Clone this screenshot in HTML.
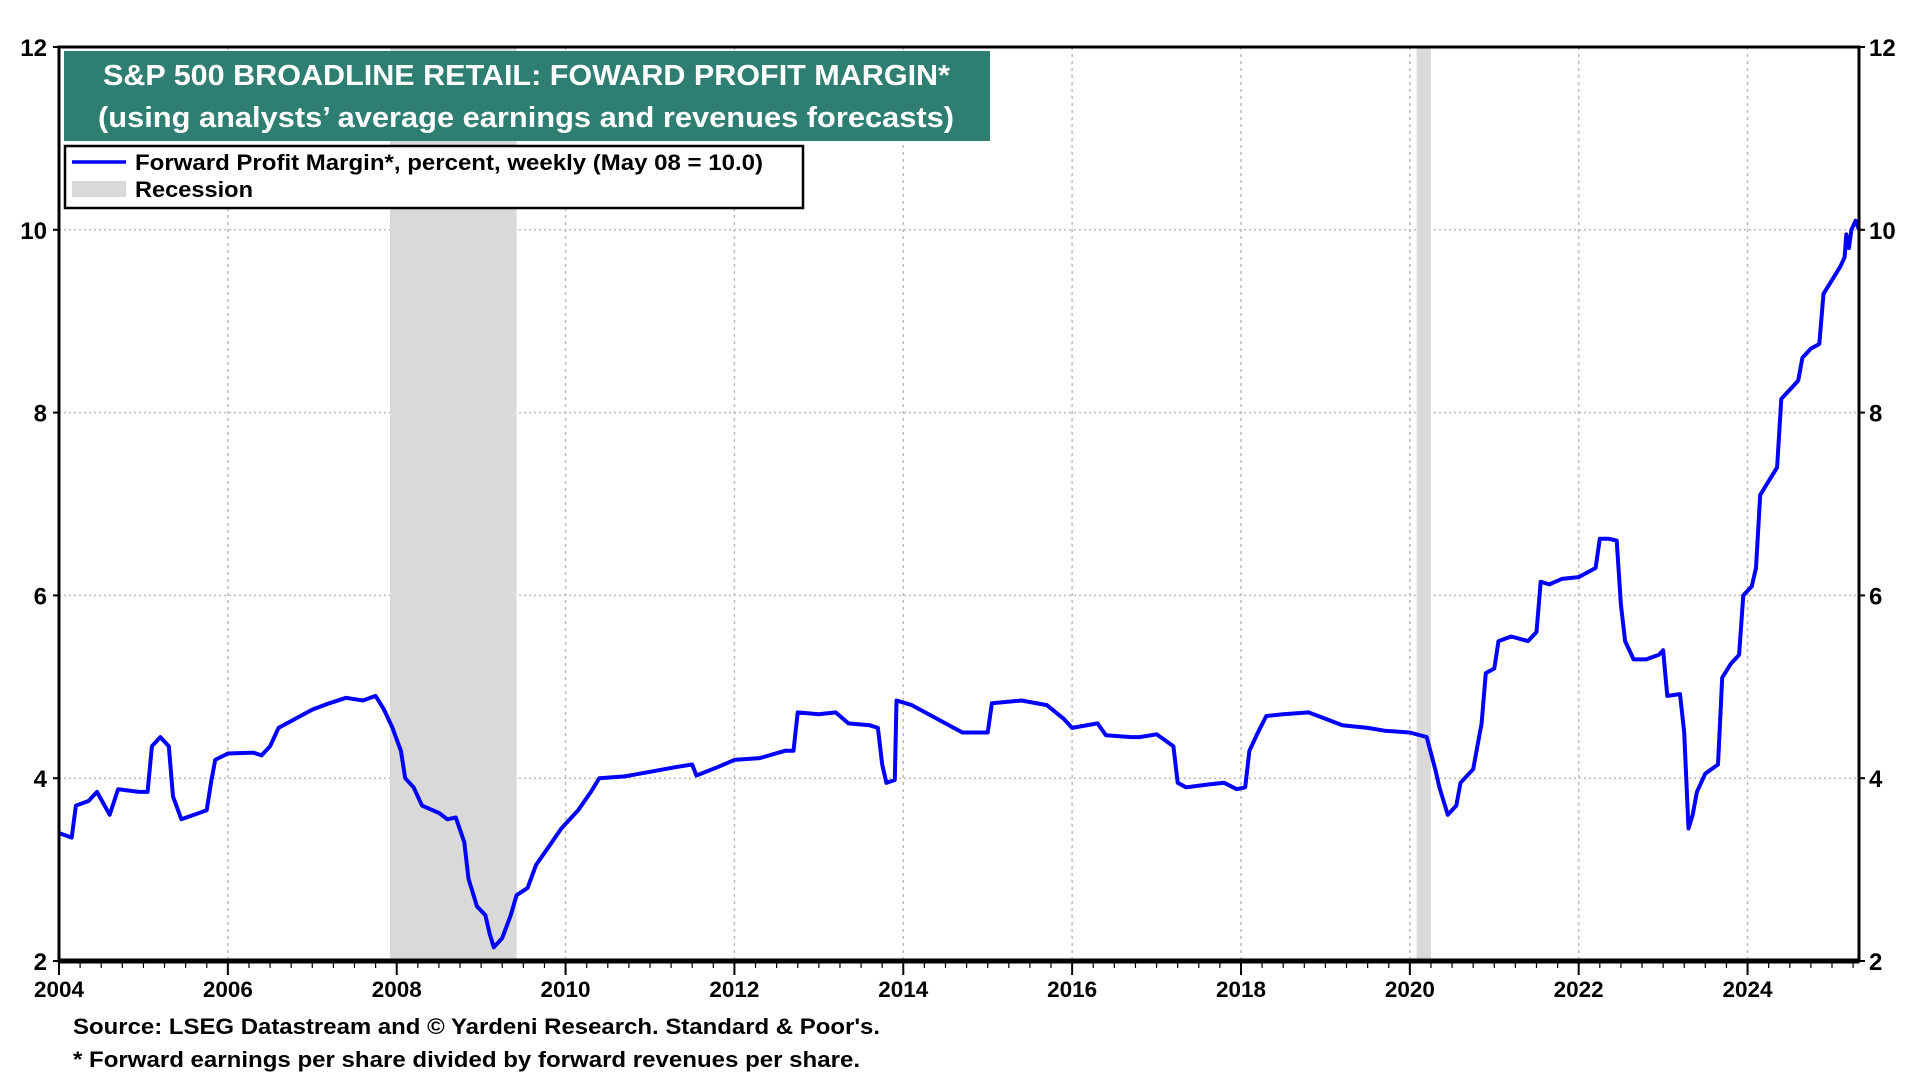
<!DOCTYPE html>
<html><head><meta charset="utf-8"><style>
body{margin:0;background:#fff;}
svg{display:block;font-family:"Liberation Sans",Arial,sans-serif;}
</style></head><body>
<svg id="chart" width="1920" height="1080">
<g id="grid"></g>
<g id="rec"></g>
<g id="series"></g>
<g id="axes"></g>
<g>
<rect x="64" y="51" width="926" height="90" fill="#2e7f71"/>
<text x="103" y="85" textLength="847" lengthAdjust="spacingAndGlyphs" font-size="29" font-weight="bold" fill="#fff">S&amp;P 500 BROADLINE RETAIL: FOWARD PROFIT MARGIN*</text>
<text x="98" y="127" textLength="856" lengthAdjust="spacingAndGlyphs" font-size="29" font-weight="bold" fill="#fff">(using analysts’ average earnings and revenues forecasts)</text>
</g>
<g>
<rect x="65" y="146" width="738" height="62" fill="#fff" stroke="#000" stroke-width="2.5"/>
<line x1="72" y1="162" x2="126" y2="162" stroke="#0000ff" stroke-width="3.5"/>
<text x="135" y="170" textLength="628" lengthAdjust="spacingAndGlyphs" font-size="22" font-weight="bold">Forward Profit Margin*, percent, weekly (May 08 = 10.0)</text>
<rect x="72" y="181" width="54" height="16" fill="#d9d9d9"/>
<text x="135" y="197" textLength="118" lengthAdjust="spacingAndGlyphs" font-size="22" font-weight="bold">Recession</text>
</g>
<text x="73" y="1034" textLength="807" lengthAdjust="spacingAndGlyphs" font-size="22" font-weight="bold">Source: LSEG Datastream and © Yardeni Research. Standard &amp; Poor's.</text>
<text x="73" y="1067" textLength="787" lengthAdjust="spacingAndGlyphs" font-size="22" font-weight="bold">* Forward earnings per share divided by forward revenues per share.</text>
</svg>
<script>
const years=[2004.0,2004.15,2004.2,2004.35,2004.45,2004.6,2004.7,2004.95,2005.05,2005.1,2005.2,2005.3,2005.35,2005.45,2005.6,2005.75,2005.8,2005.85,2006.0,2006.3,2006.4,2006.5,2006.6,2006.8,2007.0,2007.2,2007.4,2007.6,2007.75,2007.85,2007.95,2008.05,2008.1,2008.2,2008.3,2008.5,2008.6,2008.7,2008.8,2008.85,2008.95,2009.05,2009.1,2009.15,2009.25,2009.35,2009.42,2009.55,2009.65,2009.8,2009.95,2010.15,2010.3,2010.4,2010.7,2011.0,2011.3,2011.5,2011.55,2011.8,2012.0,2012.3,2012.6,2012.7,2012.75,2013.0,2013.2,2013.35,2013.6,2013.7,2013.75,2013.8,2013.9,2013.92,2014.1,2014.3,2014.5,2014.7,2015.0,2015.05,2015.4,2015.7,2015.9,2016.0,2016.3,2016.4,2016.7,2016.8,2017.0,2017.2,2017.25,2017.35,2017.6,2017.8,2017.95,2018.05,2018.1,2018.2,2018.3,2018.5,2018.8,2019.0,2019.2,2019.5,2019.7,2020.0,2020.2,2020.3,2020.35,2020.45,2020.55,2020.6,2020.75,2020.85,2020.9,2021.0,2021.05,2021.2,2021.4,2021.5,2021.55,2021.65,2021.8,2022.0,2022.2,2022.25,2022.35,2022.45,2022.5,2022.55,2022.65,2022.8,2022.95,2023.0,2023.05,2023.2,2023.25,2023.3,2023.35,2023.4,2023.5,2023.65,2023.7,2023.8,2023.9,2023.95,2024.05,2024.1,2024.15,2024.25,2024.35,2024.4,2024.5,2024.6,2024.65,2024.75,2024.85,2024.9,2025.0,2025.1,2025.15,2025.17,2025.2,2025.23,2025.28,2025.32];
const margins=[3.4,3.35,3.7,3.75,3.85,3.6,3.88,3.85,3.85,4.35,4.45,4.35,3.8,3.55,3.6,3.65,3.95,4.2,4.27,4.28,4.25,4.35,4.55,4.65,4.75,4.82,4.88,4.85,4.9,4.75,4.55,4.3,4.0,3.9,3.7,3.62,3.55,3.57,3.3,2.9,2.6,2.5,2.3,2.15,2.25,2.5,2.72,2.8,3.05,3.25,3.45,3.65,3.85,4.0,4.02,4.07,4.12,4.15,4.03,4.12,4.2,4.22,4.3,4.3,4.72,4.7,4.72,4.6,4.58,4.55,4.15,3.95,3.98,4.85,4.8,4.7,4.6,4.5,4.5,4.82,4.85,4.8,4.65,4.55,4.6,4.47,4.45,4.45,4.48,4.35,3.95,3.9,3.93,3.95,3.88,3.9,4.3,4.5,4.68,4.7,4.72,4.65,4.58,4.55,4.52,4.5,4.45,4.1,3.9,3.6,3.7,3.95,4.1,4.6,5.15,5.2,5.5,5.55,5.5,5.6,6.15,6.12,6.18,6.2,6.3,6.62,6.62,6.6,5.9,5.5,5.3,5.3,5.35,5.4,4.9,4.92,4.5,3.45,3.6,3.85,4.05,4.15,5.1,5.25,5.35,6.0,6.1,6.3,7.1,7.25,7.4,8.15,8.25,8.35,8.6,8.7,8.75,9.3,9.45,9.6,9.7,9.95,9.8,10.0,10.1,10.0];
const yTicks=[2,4,6,8,10,12];
const xTickYears=[2004,2006,2008,2010,2012,2014,2016,2018,2020,2022,2024];
const recStarts=[2007.92,2020.08];
const recEnds=[2009.42,2020.25];
const L=59,R=1859,T=47,B=961,X0=2004,X1=2025.32,Y0=2,Y1=12;
const xs=v=>L+(v-X0)/(X1-X0)*(R-L);
const ys=v=>B-(v-Y0)/(Y1-Y0)*(B-T);
const NS='http://www.w3.org/2000/svg';
function mk(tag,parent,attrs){const e=document.createElementNS(NS,tag);for(const k in attrs)e.setAttribute(k,attrs[k]);parent.appendChild(e);return e;}
const grid=document.getElementById('grid'),rec=document.getElementById('rec'),ser=document.getElementById('series'),ax=document.getElementById('axes');
yTicks.forEach(v=>{
 if(v>Y0&&v<Y1){const g=mk('line',grid,{x1:L,x2:R,y1:ys(v),y2:ys(v),stroke:'#bbb','stroke-width':1.5,'stroke-dasharray':'2,3'});
 
 }
 const t1=mk('text',ax,{x:L-12,y:ys(v)+9,'text-anchor':'end','font-size':24,'font-weight':'bold'});t1.textContent=v;
 
 
 const t2=mk('text',ax,{x:R+10,y:ys(v)+9,'font-size':24,'font-weight':'bold'});t2.textContent=v;
 
 
 mk('line',ax,{x1:L-6,x2:L,y1:ys(v),y2:ys(v),stroke:'#000','stroke-width':2});
 mk('line',ax,{x1:R,x2:R+6,y1:ys(v),y2:ys(v),stroke:'#000','stroke-width':2});
});
xTickYears.forEach(v=>{
 if(v>X0){const g=mk('line',grid,{x1:xs(v),x2:xs(v),y1:T,y2:B,stroke:'#bbb','stroke-width':1.5,'stroke-dasharray':'3,4'});
 
 }
 const t=mk('text',ax,{x:xs(v),y:997,'text-anchor':'middle','font-size':22,'font-weight':'bold',textLength:50,lengthAdjust:'spacingAndGlyphs'});t.textContent=v;
 
 
 mk('line',ax,{x1:xs(v),x2:xs(v),y1:B,y2:B+14,stroke:'#000','stroke-width':2});
});
for(let q=X0;q<X1;q+=0.25){mk('line',ax,{x1:xs(q),x2:xs(q),y1:B,y2:B+7,stroke:'#000','stroke-width':1.2});}
recStarts.forEach((s,i)=>{
 const r=mk('rect',rec,{x:xs(s),y:T,width:xs(recEnds[i])-xs(s),height:B-T,fill:'#d9d9d9'});
 
 
});
const pts=years.map((y,i)=>xs(y).toFixed(1)+','+ys(margins[i]).toFixed(1)).join(' ');
const pl=mk('polyline',ser,{points:pts,fill:'none',stroke:'#0000ff','stroke-width':4,'stroke-linejoin':'round'});


const fr=mk('rect',ax,{x:L,y:T,width:R-L,height:B-T,fill:'none',stroke:'#000','stroke-width':3});


mk('line',ax,{x1:L,x2:R,y1:B,y2:B,stroke:'#000','stroke-width':5});
</script>
</body></html>
